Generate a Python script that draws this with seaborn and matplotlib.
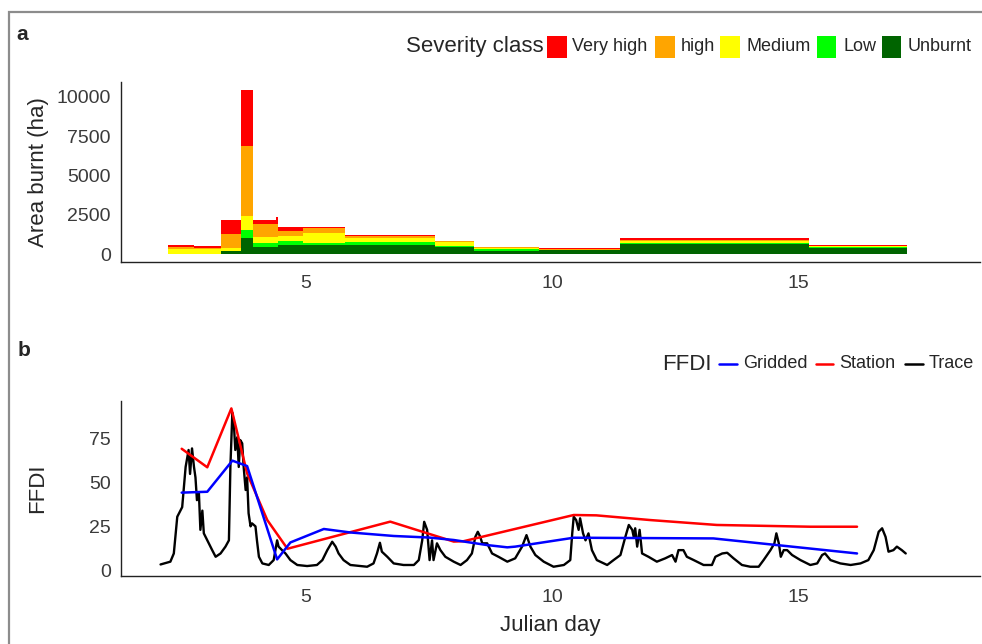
import numpy as np
import pandas as pd
import matplotlib
matplotlib.use("Agg")
import matplotlib.pyplot as plt
import seaborn as sns
from matplotlib.patches import Rectangle
from matplotlib.lines import Line2D

# ---------------- data ----------------
# Panel a: burnt area per time interval (bin edges in Julian day), stacked by severity
bin_edges = [2.19, 2.73, 3.27, 3.68, 3.92, 4.38, 4.42, 4.94, 5.80, 7.63, 8.41, 9.74, 11.39, 15.22, 17.22]
unburnt   = [0, 0, 170, 1050, 430, 430, 600, 585, 560, 430, 210, 280, 650, 400]
low       = [0, 0, 0, 460, 300, 300, 210, 100, 200, 65, 105, 0, 60, 50]
medium    = [330, 300, 230, 890, 340, 340, 340, 680, 250, 250, 85, 10, 150, 40]
high      = [100, 100, 890, 4450, 810, 810, 340, 270, 120, 105, 65, 10, 60, 30]
very_high = [130, 120, 850, 3550, 300, 470, 210, 110, 110, 10, 0, 90, 80, 40]
severity_classes = ["Very high", "high", "Medium", "Low", "Unburnt"]
severity_colors = ["#FF0000", "#FFA500", "#FFFF00", "#00FF00", "#006400"]

# Panel b: FFDI series
station_day = [2.47, 2.99, 3.48, 3.80, 4.21, 4.62, 6.71, 8.0, 8.2, 10.44, 10.9, 12.0, 13.35, 15.25, 16.2]
station_val = [69.4, 58.8, 92.5, 55.3, 28.6, 12.2, 27.7, 16.3, 16.5, 31.5, 31.3, 28.6, 25.8, 24.8, 24.8]

gridded_day = [2.47, 2.99, 3.50, 3.80, 4.41, 4.68, 5.36, 5.9, 6.78, 7.5, 8.0, 8.68, 9.09, 9.25, 10.44, 13.28, 14.57, 16.2]
gridded_val = [44.3, 44.8, 62.6, 59.5, 6.1, 15.8, 23.5, 21.5, 19.5, 18.6, 17.2, 14.3, 13.0, 13.4, 18.5, 18.1, 14.3, 9.5]

trace_day = [2.04, 2.24, 2.31, 2.38, 2.48, 2.55, 2.61, 2.64, 2.68, 2.72, 2.75, 2.78, 2.82, 2.85, 2.89,
             2.92, 2.99, 3.09, 3.16, 3.26, 3.36, 3.43, 3.46, 3.50, 3.53, 3.56, 3.60, 3.63, 3.66, 3.70,
             3.73, 3.77, 3.80, 3.83, 3.87, 3.90, 3.97, 4.00, 4.04, 4.11, 4.24, 4.34, 4.41, 4.44, 4.51,
             4.58, 4.68, 4.82, 5.02, 5.22, 5.33, 5.43, 5.53, 5.60, 5.66, 5.76, 5.90, 6.24, 6.37, 6.44,
             6.50, 6.54, 6.65, 6.78, 6.98, 7.19, 7.29, 7.36, 7.40, 7.46, 7.51, 7.56, 7.59, 7.66, 7.73,
             7.83, 8.00, 8.14, 8.27, 8.37, 8.44, 8.49, 8.54, 8.58, 8.68, 8.78, 8.91, 9.09, 9.25, 9.39,
             9.48, 9.56, 9.66, 9.83, 10.03, 10.24, 10.37, 10.41, 10.44, 10.49, 10.54, 10.57, 10.63, 10.68, 10.74,
             10.81, 10.91, 11.12, 11.25, 11.39, 11.49, 11.56, 11.63, 11.66, 11.69, 11.73, 11.78, 11.83, 11.96, 12.13,
             12.30, 12.44, 12.51, 12.57, 12.67, 12.74, 12.88, 13.08, 13.25, 13.32, 13.46, 13.56, 13.69, 13.86, 14.03,
             14.20, 14.30, 14.44, 14.52, 14.56, 14.61, 14.65, 14.71, 14.78, 14.88, 15.05, 15.25, 15.39, 15.49, 15.55,
             15.66, 15.86, 16.07, 16.27, 16.43, 16.54, 16.64, 16.71, 16.78, 16.84, 16.94, 17.01, 17.11, 17.19]
trace_val = [3.2, 4.8, 9.5, 30.5, 36, 59, 68.7, 55, 69.6, 59, 53, 40, 44, 23, 34,
             21, 17, 11.4, 7.6, 9.5, 13.4, 17, 59, 90, 84, 68.7, 76, 59, 74.4, 72.5,
             59, 45.8, 53, 32.5, 25, 26.7, 25, 17, 7.6, 3.8, 2.9, 5.7, 17, 13.4, 11.4,
             9.5, 5.7, 2.9, 2.3, 2.9, 5.7, 11.4, 16.2, 13.4, 9.5, 5.7, 2.9, 1.9, 3.8, 9.5,
             15.6, 10.5, 7.6, 3.8, 2.9, 2.9, 5.7, 17, 27.6, 23, 5.7, 17, 5.7, 15.3, 11.4,
             7.6, 4.8, 2.9, 5.7, 9.5, 19, 21.9, 19, 15.3, 15.3, 9.5, 7.6, 4.8, 6.7, 13.4,
             20, 13.4, 8.6, 4.8, 1.9, 2.9, 5.7, 21, 30.5, 28.6, 23, 29.6, 21, 17, 21,
             11.4, 5.7, 2.9, 5.7, 8.6, 19, 25.8, 23, 19, 23.9, 13.4, 23, 9.5, 7.6, 4.8,
             6.7, 8.6, 4.8, 11.4, 11.4, 7.6, 5.7, 2.9, 2.9, 7.6, 9.5, 9.9, 6.7, 2.9, 1.9,
             1.9, 5.7, 11.4, 15.3, 21, 15.3, 7.6, 11.4, 11.4, 8.6, 5.7, 2.9, 3.8, 8.6, 9.5,
             5.7, 3.8, 2.9, 3.8, 5.7, 11.4, 21.9, 23.9, 19, 10.5, 11.4, 13.4, 11.4, 9.5]

x_ticks = [5, 10, 15]
area_ticks = [0, 2500, 5000, 7500, 10000]
ffdi_ticks = [0, 25, 50, 75]

# ---------------- build tables ----------------
mids = [(a + b) / 2 for a, b in zip(bin_edges[:-1], bin_edges[1:])]
area_by_class = {"Very high": very_high, "high": high, "Medium": medium, "Low": low, "Unburnt": unburnt}
rows = []
for cls, vals in area_by_class.items():
    for m, v in zip(mids, vals):
        rows.append({"day": m, "area": v, "cls": cls})
area_df = pd.DataFrame(rows)

ffdi_df = pd.concat([
    pd.DataFrame({"day": trace_day, "ffdi": trace_val, "src": "Trace"}),
    pd.DataFrame({"day": station_day, "ffdi": station_val, "src": "Station"}),
    pd.DataFrame({"day": gridded_day, "ffdi": gridded_val, "src": "Gridded"}),
], ignore_index=True)

# ---------------- style ----------------
sns.set_style("white")
plt.rcParams["font.family"] = ["Liberation Sans", "DejaVu Sans"]

W, H = 982, 644
fig = plt.figure(figsize=(W / 100, H / 100), dpi=100)

def rect(l, t, r, b):
    return [l / W, 1 - b / H, (r - l) / W, (b - t) / H]

def fxy(x, y):
    return x / W, 1 - y / H

XLIM = (1.23, 18.70)
TICK_COLOR = "#3A3A3A"

def style_axis(ax):
    for s in ["top", "right"]:
        ax.spines[s].set_visible(False)
    for s in ["left", "bottom"]:
        ax.spines[s].set_color("#222222")
        ax.spines[s].set_linewidth(1.0)
    ax.tick_params(axis="both", direction="out", length=3.2, width=1.0, color="#333333",
                   labelcolor=TICK_COLOR, labelsize=14)
    ax.tick_params(axis="x", pad=6)
    ax.tick_params(axis="y", pad=4)
    ax.grid(False)
    ax.set_xlabel("")
    ax.set_ylabel("")

# ---------------- panel a ----------------
ax1 = fig.add_axes(rect(120.7, 81.7, 980, 262.3))
sns.histplot(data=area_df, x="day", weights="area", hue="cls", hue_order=severity_classes,
             palette=dict(zip(severity_classes, severity_colors)), multiple="stack",
             bins=bin_edges, alpha=1, linewidth=0, legend=False, ax=ax1)
ax1.set_xlim(*XLIM)
ax1.set_ylim(-522, 10954)
ax1.set_xticks(x_ticks)
ax1.set_yticks(area_ticks)
style_axis(ax1)

# ---------------- panel b ----------------
ax2 = fig.add_axes(rect(120.7, 400.7, 980, 576))
line_colors = {"Gridded": "#0000FF", "Station": "#FF0000", "Trace": "#000000"}
line_widths = {"Gridded": 1.8, "Station": 1.8, "Trace": 1.7}
for src, z in [("Trace", 2), ("Station", 3), ("Gridded", 4)]:
    sns.lineplot(data=ffdi_df[ffdi_df["src"] == src], x="day", y="ffdi", color=line_colors[src],
                 linewidth=line_widths[src], estimator=None, ax=ax2, zorder=z)
ax2.set_xlim(*XLIM)
ax2.set_ylim(-3.4, 96.9)
ax2.set_xticks(x_ticks)
ax2.set_yticks(ffdi_ticks)
style_axis(ax2)

# ---------------- texts ----------------
fig.text(*fxy(38.5, 172), "Area burnt (ha)", rotation=90, ha="center", va="center", fontsize=16)
fig.text(*fxy(38, 488), "FFDI", rotation=90, ha="center", va="center", fontsize=16)
fig.text(*fxy(550, 626), "Julian day", ha="center", va="center", fontsize=16)
fig.text(*fxy(22, 34), "a", ha="center", va="center", fontsize=15, fontweight="bold")
fig.text(*fxy(24, 351), "b", ha="center", va="center", fontsize=15, fontweight="bold")

# legend a (manual, inline title)
fig.text(*fxy(405.6, 46.5), "Severity class", ha="left", va="center", fontsize=16)
key_x = [547.4, 655.4, 720.0, 816.9, 881.8]
lab_x = [571.5, 681.0, 746.0, 843.6, 907.4]
for cls, col, kx, lx in zip(severity_classes, severity_colors, key_x, lab_x):
    x0, y0 = fxy(kx, 58)
    fig.patches.append(Rectangle((x0, y0), 19.5 / W, 22 / H, transform=fig.transFigure,
                                 facecolor=col, edgecolor="none", figure=fig))
    fig.text(*fxy(lx, 46.5), cls, ha="left", va="center", fontsize=13)

# legend b
fig.text(*fxy(661.7, 364), "FFDI", ha="left", va="center", fontsize=16)
lk = [("Gridded", 719.0, 743.3), ("Station", 815.7, 839.3), ("Trace", 905.0, 928.3)]
for src, kx, lx in lk:
    xa, ya = fxy(kx, 364)
    xb, _ = fxy(kx + 17.7, 364)
    fig.lines.append(Line2D([xa, xb], [ya, ya], transform=fig.transFigure,
                            color=line_colors[src], linewidth=1.8, figure=fig))
    fig.text(*fxy(lx, 364), src, ha="left", va="center", fontsize=13)

# outer grey frame (left + top visible)
fig.patches.append(Rectangle((9 / W, -0.1), 1.2, 1 - 12 / H + 0.1, transform=fig.transFigure,
                             facecolor="none", edgecolor="#8C8C8C", linewidth=1.6, figure=fig))

fig.savefig("out.png", dpi=100)
